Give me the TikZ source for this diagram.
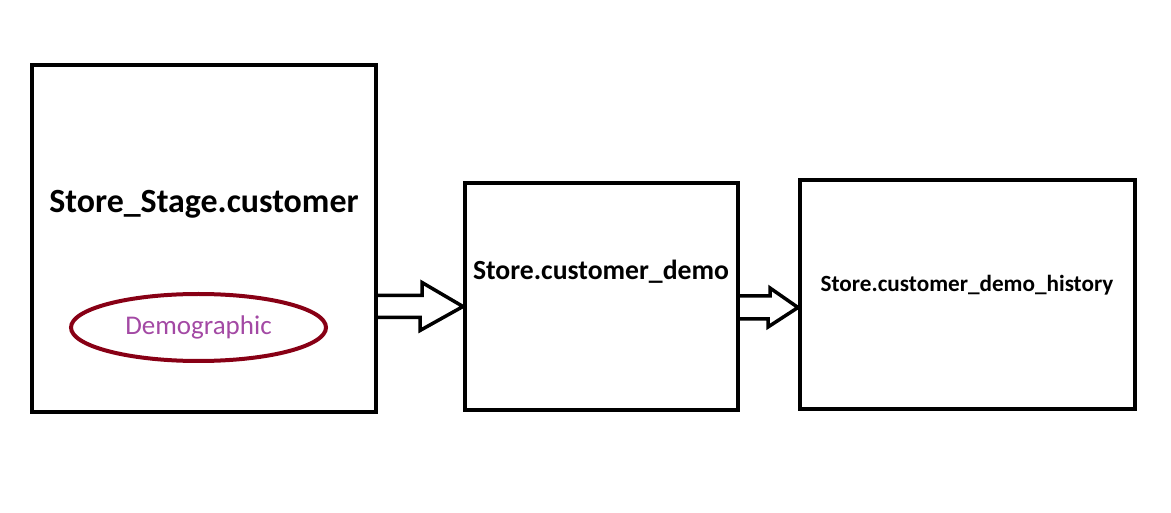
\documentclass[tikz,border=0pt]{standalone}
\usepackage{fontspec}
\setmainfont{Carlito}
\usetikzlibrary{shapes.geometric}
\definecolor{darkred}{HTML}{880015}
\definecolor{lilac}{HTML}{A349A4}
\tikzset{
  table/.style={draw=black,line width=4pt,inner sep=0pt,rectangle},
  hollow/.style={draw=black,line width=3.5pt,line join=miter},
  tname/.style={anchor=base,inner sep=0pt,font=\bfseries}
}

\begin{document}
\begin{tikzpicture}[x=1pt,y=1pt]
\useasboundingbox (0,0) rectangle (1171,512);
% tables
\node[table,minimum width=344pt,minimum height=347pt] (stage) at (204,273.5) {};
\node[table,minimum width=273pt,minimum height=227pt] (demo) at (601.5,215.5) {};
\node[table,minimum width=335pt,minimum height=229pt] (hist) at (967.5,217.5) {};
% names
\node[tname,font=\bfseries\fontsize{33.9}{40}\selectfont] (stagename) at (204,299) {Store\_Stage.customer};
\node[tname,font=\bfseries\fontsize{27.7}{33}\selectfont] (demoname) at (601,232) {Store.customer\_demo};
\node[tname,font=\bfseries\fontsize{23.2}{28}\selectfont] (histname) at (967,220) {Store.customer\_demo\_history};
% column
\node[ellipse,draw=darkred,line width=4pt,inner sep=0pt,minimum width=255pt,minimum height=67pt,
  text=lilac,font=\fontsize{27}{32}\selectfont] (demog) at (198.5,184.5) {Demographic};
% arrows
\coordinate (tipA) at (demo.west |- 0,205.5);
\coordinate (tipB) at (hist.west |- 0,204.5);
\draw[hollow] (stage.east |- 0,216.5) -- ++(44,0) -- ++(0,13) -- (tipA) -- ++(-43,-24) -- ++(0,13) -- (stage.east |- 0,194.5);
\draw[hollow] (demo.east |- 0,216) -- ++(30,0) -- ++(0,8) -- (tipB) -- ++(-30,-19.5) -- ++(0,8) -- (demo.east |- 0,193);
\end{tikzpicture}
\end{document}
